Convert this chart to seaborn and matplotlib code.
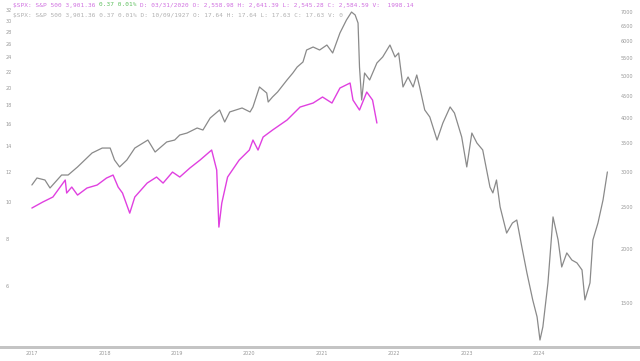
import matplotlib
matplotlib.use("Agg")
import matplotlib.pyplot as plt
from matplotlib.ticker import NullLocator
import numpy as np
import pandas as pd
import seaborn as sns

# ---- data ----
# gray series: 1920s S&P composite, mapped onto the 2017-2024 time axis (left log axis)
gray_year = [2017.00, 2017.07, 2017.18, 2017.25, 2017.41, 2017.50, 2017.63, 2017.83, 2017.97,
             2018.08, 2018.14, 2018.21, 2018.31, 2018.42, 2018.60, 2018.70, 2018.86, 2018.97,
             2019.04, 2019.14, 2019.28, 2019.36, 2019.46, 2019.59, 2019.66, 2019.73, 2019.90,
             2020.01, 2020.05, 2020.14, 2020.24, 2020.26, 2020.32, 2020.39, 2020.52, 2020.60,
             2020.66, 2020.74, 2020.79, 2020.88, 2020.97, 2021.07, 2021.15, 2021.25, 2021.34,
             2021.41, 2021.46, 2021.50, 2021.52, 2021.55, 2021.59, 2021.66, 2021.76, 2021.84,
             2021.94, 2022.01, 2022.06, 2022.12, 2022.19, 2022.26, 2022.31, 2022.35, 2022.42,
             2022.49, 2022.59, 2022.67, 2022.77, 2022.83, 2022.93, 2023.00, 2023.07, 2023.14,
             2023.22, 2023.32, 2023.36, 2023.41, 2023.46, 2023.55, 2023.63, 2023.69, 2023.76,
             2023.83, 2023.91, 2023.97, 2024.01, 2024.05, 2024.12, 2024.19, 2024.26, 2024.31,
             2024.38, 2024.45, 2024.52, 2024.59, 2024.63, 2024.70, 2024.74, 2024.81, 2024.88,
             2024.94]
gray_value = [11.08, 11.56, 11.42, 10.88, 11.77, 11.77, 12.36, 13.45, 13.86,
              13.86, 12.89, 12.36, 12.89, 13.86, 14.55, 13.53, 14.38, 14.55,
              15.00, 15.18, 15.65, 15.46, 16.63, 17.46, 16.23, 17.25, 17.67,
              17.25, 17.78, 20.07, 19.35, 18.32, 18.89, 19.47, 20.94, 21.84,
              22.65, 23.35, 25.11, 25.57, 25.11, 25.88, 24.66, 27.84, 30.12,
              31.61, 31.05, 29.57, 22.65, 18.55, 21.84, 20.94, 23.21, 24.07,
              25.88, 24.07, 24.66, 20.07, 21.32, 20.07, 21.58, 20.07, 17.46,
              16.73, 14.55, 16.13, 17.78, 17.14, 14.82, 12.36, 15.18, 14.29,
              13.70, 10.94, 10.56, 11.42, 9.70, 8.28, 8.80, 8.96, 7.61,
              6.50, 5.52, 4.98, 4.33, 4.69, 6.12, 9.13, 7.94, 6.74,
              7.34, 7.03, 6.91, 6.62, 5.52, 6.12, 7.94, 8.80, 10.12,
              11.99]

# magenta series: S&P 500 (right log axis)
spx_year = [2017.00, 2017.15, 2017.29, 2017.41, 2017.46, 2017.48, 2017.55, 2017.63, 2017.76,
            2017.90, 2018.03, 2018.12, 2018.19, 2018.25, 2018.35, 2018.42, 2018.59, 2018.72,
            2018.81, 2018.94, 2019.04, 2019.18, 2019.32, 2019.48, 2019.55, 2019.58, 2019.62,
            2019.70, 2019.86, 2020.00, 2020.05, 2020.12, 2020.19, 2020.32, 2020.46, 2020.52,
            2020.70, 2020.88, 2021.01, 2021.14, 2021.25, 2021.39, 2021.43, 2021.52, 2021.62,
            2021.70, 2021.76]
spx_value = [2482, 2562, 2631, 2803, 2878, 2687, 2773, 2658, 2759,
             2803, 2909, 2955, 2773, 2687, 2416, 2631, 2832, 2924,
             2832, 3002, 2924, 3067, 3199, 3373, 3034, 2244, 2548,
             2924, 3199, 3373, 3556, 3373, 3613, 3749, 3891, 3953,
             4234, 4325, 4465, 4325, 4682, 4808, 4394, 4168, 4584,
             4394, 3891]

year_ticks = [2017, 2018, 2019, 2020, 2021, 2022, 2023, 2024]
left_ticks = [6, 8, 10, 12, 14, 16, 18, 20, 22, 24, 26, 28, 30, 32]
right_ticks = [1500, 2000, 2500, 3000, 3500, 4000, 4500, 5000, 5500, 6000, 6500, 7000]

header1_parts = ["$SPX: S&P 500 3,901.36",
                 "0.37 0.01%",
                 "D: 03/31/2020 O: 2,558.98 H: 2,641.39 L: 2,545.28 C: 2,584.59 V:  1998.14"]
header2 = ("$SPX: S&P 500 3,901.36 0.37 0.01% D: 10/09/1927 O: 17.64 "
           "H: 17.64 L: 17.63 C: 17.63 V: 0")

gray_df = pd.DataFrame({"year": gray_year, "value": gray_value})
spx_df = pd.DataFrame({"year": spx_year, "value": spx_value})

# ---- figure ----
sns.set_style("white")
plt.rcParams["font.family"] = ["DejaVu Sans"]

W, H = 640, 361
fig = plt.figure(figsize=(W / 100, H / 100), dpi=100)
fig.patch.set_facecolor("white")
ax = fig.add_axes([0, 14 / H, 1, 347 / H])

sns.lineplot(data=gray_df, x="year", y="value", ax=ax, color="#8a8a8a",
             linewidth=0.9, estimator=None, sort=False)
ax.set_yscale("log")
ax.set_ylim(4.15, 34.0)
ax.set_xlim(2016.56, 2025.39)

ax2 = ax.twinx()
sns.lineplot(data=spx_df, x="year", y="value", ax=ax2, color="#e040e0",
             linewidth=1.0, estimator=None, sort=False)
ax2.set_yscale("log")
ax2.set_ylim(1190, 7459)

for a in (ax, ax2):
    a.set_xlabel("")
    a.set_ylabel("")
    a.set_facecolor("none")
    for s in ("top", "left", "right"):
        a.spines[s].set_visible(False)
    a.yaxis.set_minor_locator(NullLocator())
    a.spines["bottom"].set_color("#c4c4c4")
    a.spines["bottom"].set_linewidth(2.0)

ax.set_xticks(year_ticks)
ax.set_xticklabels([str(y) for y in year_ticks])
ax.tick_params(axis="x", length=0, pad=3, labelsize=3.5, labelcolor="#999999")

ax.set_yticks(left_ticks)
ax.set_yticklabels([str(v) for v in left_ticks])
ax.tick_params(axis="y", length=0, pad=-4, labelsize=3.5, labelcolor="#999999")
for lbl in ax.get_yticklabels():
    lbl.set_horizontalalignment("left")

ax2.set_yticks(right_ticks)
ax2.set_yticklabels([str(v) for v in right_ticks])
ax2.tick_params(axis="y", length=0, pad=-5, labelsize=3.5, labelcolor="#999999")
for lbl in ax2.get_yticklabels():
    lbl.set_horizontalalignment("right")

# header lines: three separate pieces chained one after another
mono = "DejaVu Sans Mono"
hs = 4.4
t1 = fig.text(13 / W, 1 - 5 / H, header1_parts[0], family=mono, fontsize=hs,
              color="#d070e0", va="center")
t2 = fig.text(0, 0, header1_parts[1], family=mono, fontsize=hs, color="#5cbf5c", va="center")
t3 = fig.text(0, 0, header1_parts[2], family=mono, fontsize=hs, color="#d070e0", va="center")
fig.text(13 / W, 1 - 16 / H, header2, family=mono, fontsize=hs, color="#b0b0b0", va="center")

fig.canvas.draw()
r = fig.canvas.get_renderer()
space_px = 0.602 * hs * 100 / 72
b1 = t1.get_window_extent(r)
t2.set_position(((b1.x1 + space_px) / W, 1 - 5 / H))
fig.canvas.draw()
b2 = t2.get_window_extent(r)
t3.set_position(((b2.x1 + space_px) / W, 1 - 5 / H))

fig.savefig("out.png", dpi=100, facecolor="white")
